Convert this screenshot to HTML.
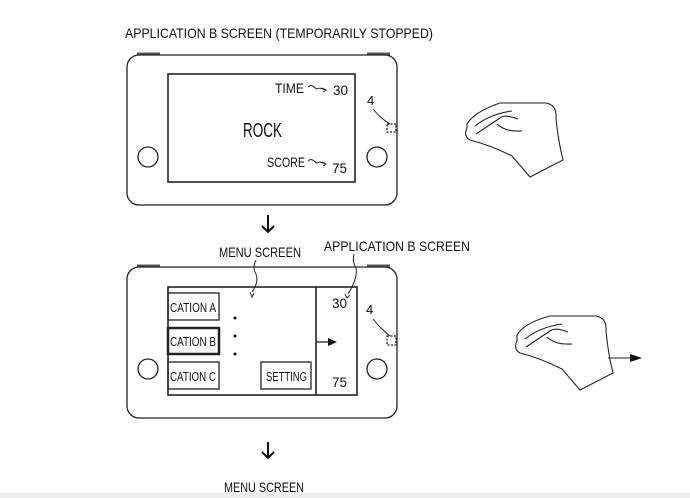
<!DOCTYPE html>
<html><head><style>
html,body{margin:0;padding:0;background:#fff;}
svg{display:block;}
text{font-family:"Liberation Sans",sans-serif;fill:#111;}
</style></head><body>
<svg width="690" height="498" viewBox="0 0 690 498" xmlns="http://www.w3.org/2000/svg">
<rect x="0" y="493" width="690" height="5" fill="#eeeeee"/>
<g stroke="#222" fill="none" stroke-width="1.3">
<path d="M137 54 L160 54 M367 54 L390 54" stroke-width="3" stroke="#555"/>
<rect x="127" y="55" width="270" height="150" rx="12"/>
<rect x="168" y="74" width="187" height="108" stroke-width="1.6"/>
<circle cx="148" cy="157" r="10"/>
<circle cx="377" cy="157" r="10"/>
<rect x="387" y="124" width="9" height="8" stroke-dasharray="2,1.5"/>
<path d="M373 109 Q380 118 390 124" stroke-width="1"/>
<path d="M308 87 q3 -3 6 0 q3 3 6 1 l6 2 M322 88 l4 2 l-3 2" stroke-width="1"/>
<path d="M308 161 q3 -3 6 0 q3 3 6 1 l6 2 M322 162 l4 2 l-3 2" stroke-width="1"/>
<path d="M137 266 L160 266 M367 266 L390 266" stroke-width="3" stroke="#555"/>
<rect x="127" y="267" width="270" height="151" rx="12"/>
<rect x="168" y="287" width="189" height="108" stroke-width="1.6"/>
<line x1="316" y1="287" x2="316" y2="395" stroke-width="1.6"/>
<circle cx="148" cy="369" r="10"/>
<circle cx="377" cy="369" r="10"/>
<rect x="387" y="336" width="9" height="9" stroke-dasharray="2,1.5"/>
<path d="M373 319 Q380 328 390 336" stroke-width="1"/>
<rect x="168" y="293" width="51" height="27"/>
<rect x="168" y="328" width="51" height="26" stroke-width="2.5"/>
<rect x="168" y="362" width="51" height="27"/>
<rect x="261" y="362" width="50" height="27"/>
<path d="M256 260 q-4 8 0 14 q3 8 -4 18 M250 292 l2 5 l2 -4" stroke-width="1"/>
<path d="M354 254 q-2 8 2 14 q2 10 -8 26 M345 294 l2 4 l3 -3" stroke-width="1"/>
<line x1="316" y1="342" x2="328" y2="342"/>
<g stroke-width="1.1">
<path d="M467 124 Q474 112 500 103 L546 103 Q557 105 556 118 Q558 140 563 160 L530 177 L512 156 Q490 145 470 140 Q463 136 467 128 Z"/>
<path d="M475 126 Q490 114 512 111 M476 134 Q488 126 500 118 Q505 114 518 119 M497 124 Q505 132 522 131"/>
<path d="M517 335 Q524 323 550 316 L596 316 Q607 318 606 331 Q608 353 613 373 L580 390 L562 369 Q540 358 520 353 Q513 349 517 341 Z"/>
<path d="M525 339 Q540 327 562 324 M526 347 Q538 339 550 331 Q555 327 568 332 M547 337 Q555 345 572 344"/>
<line x1="608" y1="358" x2="630" y2="358"/>
</g>
</g>
<polygon points="328,338 337,342 328,346" fill="#111"/>
<polygon points="630,354 642,358 630,362" fill="#111"/>
<g fill="#111">
<circle cx="235" cy="318" r="1.5"/><circle cx="235" cy="336" r="1.5"/><circle cx="235" cy="354" r="1.5"/>
</g>
<g stroke="#111" stroke-width="2" fill="none">
<path d="M268 215 V232 M262 226 L268 232 L274 226"/>
<path d="M268 442 V458 M262 452 L268 458 L274 452"/>
</g>
<text x="125" y="38" font-size="14" textLength="308" lengthAdjust="spacingAndGlyphs">APPLICATION B SCREEN (TEMPORARILY STOPPED)</text>
<text x="275" y="93" font-size="14" textLength="29" lengthAdjust="spacingAndGlyphs">TIME</text>
<text x="333" y="95" font-size="14" textLength="15" lengthAdjust="spacingAndGlyphs">30</text>
<text x="243" y="137" font-size="20" textLength="39" lengthAdjust="spacingAndGlyphs">ROCK</text>
<text x="267" y="167" font-size="14" textLength="38" lengthAdjust="spacingAndGlyphs">SCORE</text>
<text x="332" y="173" font-size="14" textLength="15" lengthAdjust="spacingAndGlyphs">75</text>
<text x="367" y="105" font-size="13">4</text>
<text x="219" y="257" font-size="14" textLength="82" lengthAdjust="spacingAndGlyphs">MENU SCREEN</text>
<text x="324" y="251" font-size="14" textLength="146" lengthAdjust="spacingAndGlyphs">APPLICATION B SCREEN</text>
<text x="170" y="312" font-size="13" textLength="46" lengthAdjust="spacingAndGlyphs">CATION A</text>
<text x="170" y="346" font-size="13" textLength="46" lengthAdjust="spacingAndGlyphs">CATION B</text>
<text x="170" y="381" font-size="13" textLength="46" lengthAdjust="spacingAndGlyphs">CATION C</text>
<text x="266" y="381" font-size="13" textLength="41" lengthAdjust="spacingAndGlyphs">SETTING</text>
<text x="332" y="308" font-size="14" textLength="15" lengthAdjust="spacingAndGlyphs">30</text>
<text x="332" y="387" font-size="14" textLength="15" lengthAdjust="spacingAndGlyphs">75</text>
<text x="366" y="314" font-size="13">4</text>
<text x="224" y="492" font-size="14" textLength="80" lengthAdjust="spacingAndGlyphs">MENU SCREEN</text>
</svg>
</body></html>
